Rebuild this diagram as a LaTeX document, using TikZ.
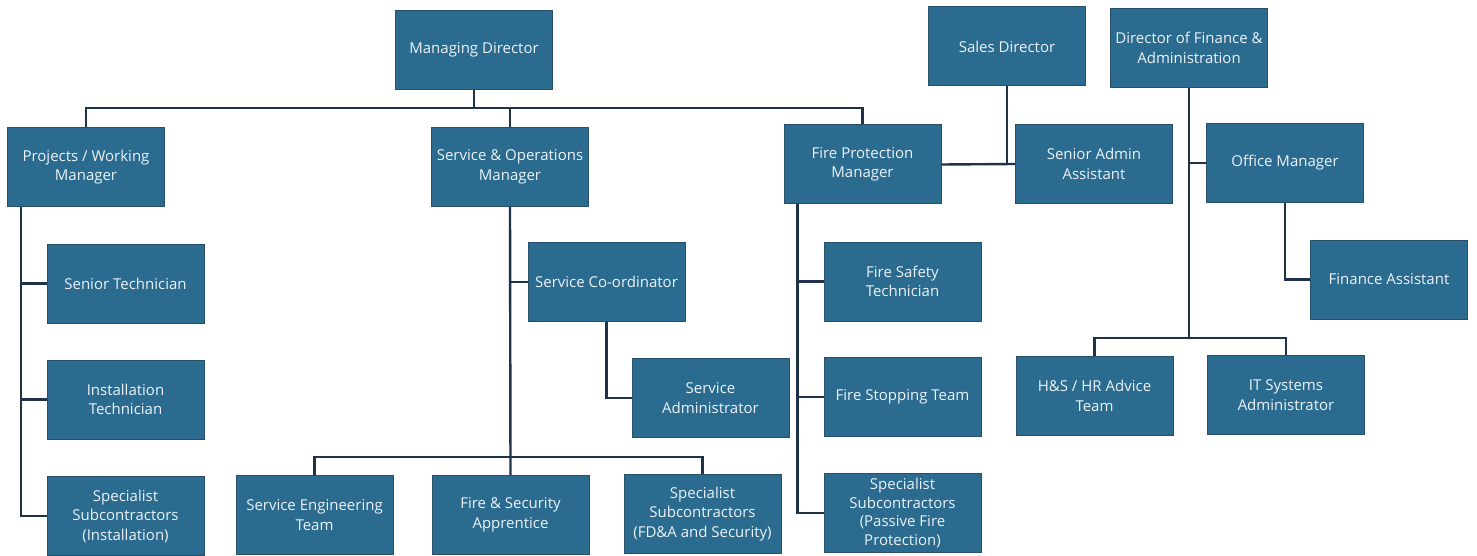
\documentclass[tikz,border=0pt]{standalone}
\usepackage{fontspec}
\setmainfont{Open Sans}
\definecolor{boxfill}{RGB}{42,107,143}
\definecolor{boxline}{RGB}{40,80,105}
\definecolor{conn}{RGB}{30,50,72}
\definecolor{txt}{RGB}{236,242,246}
\begin{document}
\begin{tikzpicture}[x=1pt,y=-1pt,
  box/.style={draw=boxline, line width=1pt, fill=boxfill, text=txt,
    minimum width=157pt, minimum height=79pt, inner sep=1pt,
    align=center, font=\fontsize{15}{19.5}\selectfont},
  link/.style={draw=conn, line width=2.4pt}]
\path[fill=white] (0,0) rectangle (1477,556);
% top level
\node[box] (md) at (474,50) {Managing Director};
\node[box] (sd) at (1007,46.5) {Sales Director};
\node[box] (dfa) at (1189,48) {Director of Finance \&\\Administration};
% managers
\node[box] (pwm) at (86,167) {Projects / Working\\Manager};
\node[box] (som) at (510,167) {Service \& Operations\\Manager};
\node[box] (fpm) at (862.5,164.5) {Fire Protection\\Manager};
\node[box] (saa) at (1094,164) {Senior Admin\\Assistant};
\node[box] (om) at (1285,163) {Office Manager};
% projects team
\node[box] (st) at (125.5,283.5) {Senior Technician};
\node[box] (itech) at (125.5,399.5) {Installation\\Technician};
\node[box] (ssi) at (125.5,516) {Specialist\\Subcontractors\\(Installation)};
% service team
\node[box] (sc) at (606.5,282) {Service Co-ordinator};
\node[box] (sa) at (710.5,398) {Service\\Administrator};
\node[box] (set) at (314.5,515) {Service Engineering\\Team};
\node[box] (fsa) at (510.5,515) {Fire \& Security\\Apprentice};
\node[box] (ssf) at (702.5,514) {Specialist\\Subcontractors\\(FD\&A and Security)};
% fire protection team
\node[box] (fst) at (902.5,281.5) {Fire Safety\\Technician};
\node[box] (fstop) at (902.5,397) {Fire Stopping Team};
\node[box, font=\fontsize{15}{18.5}\selectfont] (ssp) at (902.5,513) {Specialist\\Subcontractors\\(Passive Fire\\Protection)};
% finance team
\node[box] (fa) at (1389,279.5) {Finance Assistant};
\node[box] (hs) at (1094.5,396) {H\&S / HR Advice\\Team};
\node[box] (itsa) at (1286,395) {IT Systems\\Administrator};
% connectors
\coordinate (mbus) at (474,108);
\coordinate (sbus) at (510,457);
\coordinate (fbus) at (1189,338);
\path[link] (md.south) -- (mbus);
\path[link] (pwm.north) |- (mbus) -| (fpm.north);
\path[link] (som.north) -- (som.north |- mbus);
% projects
\coordinate (pv) at ([xshift=14pt]pwm.south west);
\path[link] (pv) |- (ssi.west);
\path[link] (st.west) -- (st.west -| pv);
\path[link] (itech.west) -- (itech.west -| pv);
% service
\path[link] (som.south) -- (fsa.north);
\path[link] (sc.west) -- (sc.west -| som.south);
\path[link] (set.north) |- (sbus) -| (ssf.north);
\path[link] (sc.south) |- (sa.west);
% fire protection
\coordinate (fv) at ([xshift=14pt]fpm.south west);
\path[link] (fv) |- (ssp.west);
\path[link] (fst.west) -- (fst.west -| fv);
\path[link] (fstop.west) -- (fstop.west -| fv);
\path[link] (fpm.east) -- (saa.west);
\path[link] (sd.south) -- (sd.south |- fpm.east);
% finance
\path[link] (dfa.south) -- (fbus);
\path[link] (hs.north) |- (fbus) -| (itsa.north);
\path[link] (om.west) -- (om.west -| dfa.south);
\path[link] (om.south) |- (fa.west);
\end{tikzpicture}
\end{document}
